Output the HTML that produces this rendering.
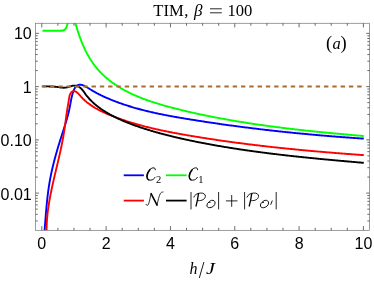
<!DOCTYPE html>
<html><head><meta charset="utf-8"><title>TIM, beta = 100</title><style>
html,body{margin:0;padding:0;background:#fff;}body{width:374px;height:282px;overflow:hidden;position:relative;}
.t{position:absolute;white-space:nowrap;line-height:1;color:#000;height:1em;will-change:opacity;}
.sans{font-family:"Liberation Sans",sans-serif;}.ser{font-family:"Liberation Serif",serif;}
</style></head><body>
<svg width="374" height="282" viewBox="0 0 374 282" style="position:absolute;left:0;top:0">
<defs><clipPath id="cp"><rect x="35.55" y="23.25" width="334.00" height="207.05"/></clipPath></defs>
<rect x="0" y="0" width="374" height="282" fill="#fff"/>
<g clip-path="url(#cp)" fill="none" stroke-linecap="butt" stroke-linejoin="round">
<path d="M43.96,237.99 L44.04,237.09 L44.12,236.20 L44.19,235.30 L44.27,234.40 L44.34,233.50 L44.41,232.61 L44.49,231.71 L44.56,230.81 L44.63,229.91 L44.70,229.01 L44.77,228.10 L44.84,227.20 L44.91,226.30 L44.98,225.40 L45.05,224.50 L45.12,223.60 L45.19,222.69 L45.26,221.79 L45.33,220.89 L45.40,219.98 L45.47,219.08 L45.54,218.18 L45.61,217.27 L45.68,216.37 L45.75,215.47 L45.83,214.56 L45.90,213.66 L45.98,212.76 L46.05,211.85 L46.13,210.95 L46.21,210.05 L46.29,209.14 L46.37,208.24 L46.45,207.34 L46.53,206.43 L46.62,205.53 L46.70,204.63 L46.79,203.73 L46.88,202.82 L46.97,201.92 L47.06,201.02 L47.16,200.12 L47.26,199.22 L47.36,198.32 L47.46,197.42 L47.56,196.52 L47.67,195.62 L47.77,194.72 L47.89,193.82 L48.00,192.92 L48.11,192.03 L48.23,191.13 L48.35,190.23 L48.48,189.34 L48.61,188.44 L48.74,187.55 L48.87,186.65 L49.01,185.76 L49.14,184.87 L49.29,183.97 L49.43,183.08 L49.58,182.19 L49.74,181.30 L49.89,180.41 L50.05,179.52 L50.22,178.64 L50.38,177.75 L50.56,176.86 L50.73,175.98 L50.91,175.09 L51.09,174.21 L51.27,173.33 L51.46,172.44 L51.65,171.56 L51.85,170.68 L52.05,169.80 L52.25,168.92 L52.45,168.04 L52.66,167.16 L52.87,166.28 L53.08,165.41 L53.29,164.53 L53.51,163.65 L53.73,162.78 L53.96,161.90 L54.18,161.03 L54.41,160.15 L54.64,159.28 L54.87,158.41 L55.11,157.53 L55.35,156.66 L55.59,155.79 L55.83,154.92 L56.07,154.05 L56.32,153.17 L56.57,152.30 L56.82,151.43 L57.07,150.56 L57.33,149.69 L57.58,148.83 L57.84,147.96 L58.10,147.09 L58.36,146.22 L58.62,145.35 L58.89,144.48 L59.16,143.62 L59.42,142.75 L59.69,141.88 L59.96,141.01 L60.23,140.15 L60.51,139.28 L60.78,138.41 L61.05,137.55 L61.33,136.68 L61.61,135.81 L61.88,134.95 L62.16,134.08 L62.44,133.22 L62.72,132.35 L63.00,131.48 L63.28,130.62 L63.56,129.75 L63.84,128.88 L64.12,128.02 L64.39,127.15 L64.67,126.29 L64.94,125.42 L65.21,124.55 L65.48,123.69 L65.74,122.82 L66.01,121.95 L66.27,121.08 L66.52,120.22 L66.77,119.35 L67.02,118.48 L67.27,117.61 L67.51,116.74 L67.74,115.88 L67.97,115.01 L68.19,114.14 L68.41,113.27 L68.63,112.40 L68.83,111.53 L69.03,110.66 L69.23,109.79 L69.41,108.91 L69.59,108.04 L69.76,107.17 L69.93,106.30 L70.09,105.42 L70.25,104.55 L70.41,103.67 L70.57,102.79 L70.73,101.91 L70.89,101.02 L71.06,100.14 L71.24,99.25 L71.43,98.36 L71.63,97.46 L71.84,96.56 L72.06,95.66 L72.30,94.75 L72.56,93.84 L72.83,92.92 L73.13,92.00 L73.45,91.08 L73.80,90.18 L74.18,89.31 L74.60,88.48 L75.07,87.70 L75.58,86.99 L76.14,86.35 L76.76,85.80 L77.44,85.35 L78.18,85.01 L78.96,84.79 L79.77,84.69 L80.59,84.71 L81.42,84.83 L82.26,85.04 L83.10,85.34 L83.95,85.70 L84.80,86.11 L85.64,86.57 L86.48,87.06 L87.31,87.56 L88.12,88.06 L88.92,88.55 L89.71,89.03 L90.49,89.51 L91.26,89.97 L92.03,90.43 L92.79,90.88 L93.56,91.33 L94.33,91.77 L95.11,92.20 L95.89,92.63 L96.67,93.05 L97.46,93.47 L98.26,93.89 L99.06,94.30 L99.86,94.70 L100.67,95.10 L101.48,95.49 L102.30,95.88 L103.11,96.27 L103.94,96.65 L104.76,97.03 L105.59,97.40 L106.42,97.77 L107.25,98.13 L108.09,98.49 L108.92,98.84 L109.76,99.20 L110.60,99.54 L111.44,99.89 L112.29,100.22 L113.13,100.56 L113.98,100.89 L114.82,101.22 L115.67,101.54 L116.52,101.86 L117.37,102.18 L118.22,102.49 L119.07,102.80 L119.92,103.11 L120.77,103.41 L121.63,103.71 L122.48,104.00 L123.34,104.30 L124.20,104.59 L125.06,104.87 L125.92,105.15 L126.77,105.43 L127.64,105.71 L128.50,105.98 L129.36,106.25 L130.22,106.52 L131.09,106.78 L131.95,107.04 L132.82,107.30 L133.69,107.55 L134.55,107.80 L135.42,108.05 L136.29,108.30 L137.16,108.54 L138.03,108.78 L138.90,109.02 L139.78,109.26 L140.65,109.49 L141.52,109.72 L142.40,109.95 L143.27,110.17 L144.15,110.39 L145.02,110.61 L145.90,110.83 L146.78,111.04 L147.65,111.26 L148.53,111.47 L149.41,111.68 L150.29,111.88 L151.17,112.08 L152.05,112.29 L152.94,112.49 L153.82,112.68 L154.70,112.88 L155.58,113.07 L156.47,113.26 L157.35,113.45 L158.24,113.64 L159.12,113.83 L160.01,114.01 L160.89,114.19 L161.78,114.37 L162.67,114.55 L163.55,114.73 L164.44,114.90 L165.33,115.08 L166.22,115.25 L167.11,115.42 L168.00,115.59 L168.89,115.76 L169.78,115.92 L170.67,116.09 L171.56,116.25 L172.45,116.42 L173.34,116.58 L174.23,116.74 L175.12,116.90 L176.01,117.05 L176.91,117.21 L177.80,117.37 L178.69,117.52 L179.58,117.67 L180.48,117.83 L181.37,117.98 L182.26,118.13 L183.15,118.28 L184.05,118.43 L184.94,118.58 L185.84,118.72 L186.73,118.87 L187.62,119.02 L188.52,119.16 L189.41,119.31 L190.31,119.45 L191.20,119.60 L192.09,119.74 L192.99,119.88 L193.88,120.03 L194.78,120.17 L195.67,120.31 L196.57,120.45 L197.46,120.59 L198.36,120.73 L199.25,120.87 L200.14,121.01 L201.04,121.15 L201.93,121.29 L202.83,121.42 L203.72,121.56 L204.62,121.70 L205.51,121.83 L206.41,121.97 L207.30,122.10 L208.20,122.24 L209.09,122.37 L209.99,122.51 L210.88,122.64 L211.78,122.77 L212.67,122.90 L213.57,123.03 L214.47,123.17 L215.36,123.30 L216.26,123.43 L217.15,123.56 L218.05,123.69 L218.94,123.81 L219.84,123.94 L220.74,124.07 L221.63,124.20 L222.53,124.32 L223.42,124.45 L224.32,124.57 L225.22,124.70 L226.11,124.82 L227.01,124.95 L227.90,125.07 L228.80,125.20 L229.70,125.32 L230.59,125.44 L231.49,125.56 L232.39,125.68 L233.28,125.80 L234.18,125.93 L235.07,126.05 L235.97,126.16 L236.87,126.28 L237.77,126.40 L238.66,126.52 L239.56,126.64 L240.46,126.75 L241.35,126.87 L242.25,126.99 L243.15,127.10 L244.04,127.22 L244.94,127.33 L245.84,127.45 L246.74,127.56 L247.63,127.67 L248.53,127.79 L249.43,127.90 L250.32,128.01 L251.22,128.12 L252.12,128.23 L253.02,128.34 L253.92,128.45 L254.81,128.56 L255.71,128.67 L256.61,128.78 L257.51,128.89 L258.40,129.00 L259.30,129.10 L260.20,129.21 L261.10,129.32 L262.00,129.42 L262.89,129.53 L263.79,129.63 L264.69,129.74 L265.59,129.84 L266.49,129.95 L267.39,130.05 L268.28,130.15 L269.18,130.25 L270.08,130.36 L270.98,130.46 L271.88,130.56 L272.78,130.66 L273.68,130.76 L274.58,130.86 L275.47,130.96 L276.37,131.06 L277.27,131.15 L278.17,131.25 L279.07,131.35 L279.97,131.45 L280.87,131.54 L281.77,131.64 L282.67,131.73 L283.57,131.83 L284.47,131.92 L285.37,132.02 L286.26,132.11 L287.16,132.21 L288.06,132.30 L288.96,132.39 L289.86,132.48 L290.76,132.57 L291.66,132.67 L292.56,132.76 L293.46,132.85 L294.36,132.94 L295.26,133.03 L296.16,133.12 L297.06,133.20 L297.96,133.29 L298.86,133.38 L299.76,133.47 L300.66,133.55 L301.56,133.64 L302.46,133.73 L303.36,133.81 L304.27,133.90 L305.17,133.98 L306.07,134.07 L306.97,134.15 L307.87,134.24 L308.77,134.32 L309.67,134.40 L310.57,134.48 L311.47,134.57 L312.37,134.65 L313.27,134.73 L314.17,134.81 L315.08,134.89 L315.98,134.97 L316.88,135.05 L317.78,135.13 L318.68,135.21 L319.58,135.28 L320.48,135.36 L321.38,135.44 L322.29,135.52 L323.19,135.59 L324.09,135.67 L324.99,135.74 L325.89,135.82 L326.79,135.89 L327.70,135.97 L328.60,136.04 L329.50,136.12 L330.40,136.19 L331.30,136.26 L332.21,136.34 L333.11,136.41 L334.01,136.48 L334.91,136.55 L335.82,136.62 L336.72,136.69 L337.62,136.76 L338.52,136.83 L339.43,136.90 L340.33,136.97 L341.23,137.04 L342.13,137.11 L343.04,137.18 L343.94,137.24 L344.84,137.31 L345.74,137.38 L346.65,137.44 L347.55,137.51 L348.45,137.57 L349.36,137.64 L350.26,137.70 L351.16,137.77 L352.07,137.83 L352.97,137.90 L353.87,137.96 L354.78,138.02 L355.68,138.08 L356.58,138.15 L357.49,138.21 L358.39,138.27 L359.30,138.33 L360.20,138.39 L361.10,138.45 L362.01,138.51 L362.91,138.57 L363.81,138.63" stroke="#0000ff" stroke-width="1.9"/>
<path d="M42.5,30.8 H61.2 C64.6,30.8 65.6,29.6 66.5,27.2 L69,19" stroke="#00ff00" stroke-width="1.9"/>
<path d="M73.97,18.02 L74.18,18.81 L74.39,19.60 L74.61,20.39 L74.83,21.18 L75.05,21.97 L75.28,22.77 L75.50,23.56 L75.73,24.36 L75.96,25.16 L76.20,25.96 L76.44,26.76 L76.68,27.57 L76.93,28.37 L77.18,29.17 L77.43,29.98 L77.68,30.78 L77.94,31.58 L78.21,32.39 L78.47,33.19 L78.74,34.00 L79.02,34.80 L79.30,35.60 L79.58,36.40 L79.87,37.20 L80.16,38.00 L80.45,38.80 L80.75,39.60 L81.06,40.40 L81.37,41.19 L81.68,41.99 L82.00,42.78 L82.33,43.57 L82.66,44.35 L82.99,45.14 L83.33,45.92 L83.68,46.70 L84.03,47.48 L84.38,48.25 L84.74,49.02 L85.11,49.79 L85.48,50.55 L85.86,51.32 L86.25,52.07 L86.64,52.83 L87.03,53.58 L87.43,54.32 L87.84,55.07 L88.26,55.80 L88.68,56.54 L89.11,57.27 L89.54,57.99 L89.98,58.71 L90.43,59.43 L90.88,60.14 L91.34,60.84 L91.81,61.54 L92.28,62.24 L92.76,62.93 L93.25,63.61 L93.74,64.29 L94.24,64.97 L94.74,65.64 L95.26,66.30 L95.78,66.96 L96.30,67.61 L96.83,68.25 L97.37,68.89 L97.92,69.52 L98.47,70.15 L99.03,70.77 L99.59,71.38 L100.16,71.99 L100.74,72.59 L101.32,73.19 L101.91,73.78 L102.51,74.36 L103.11,74.94 L103.72,75.51 L104.33,76.08 L104.95,76.63 L105.58,77.19 L106.21,77.74 L106.84,78.28 L107.49,78.81 L108.13,79.34 L108.78,79.87 L109.44,80.39 L110.10,80.90 L110.77,81.41 L111.44,81.91 L112.11,82.41 L112.79,82.90 L113.48,83.39 L114.17,83.87 L114.86,84.34 L115.56,84.81 L116.26,85.28 L116.96,85.74 L117.67,86.19 L118.38,86.64 L119.10,87.09 L119.82,87.52 L120.54,87.96 L121.27,88.39 L122.00,88.81 L122.73,89.23 L123.47,89.64 L124.21,90.05 L124.95,90.46 L125.70,90.86 L126.45,91.25 L127.20,91.64 L127.95,92.03 L128.71,92.41 L129.46,92.79 L130.22,93.16 L130.99,93.52 L131.75,93.89 L132.52,94.24 L133.29,94.60 L134.06,94.95 L134.83,95.29 L135.60,95.63 L136.38,95.97 L137.15,96.30 L137.93,96.63 L138.71,96.96 L139.49,97.28 L140.28,97.59 L141.06,97.90 L141.85,98.21 L142.63,98.52 L143.42,98.82 L144.21,99.12 L145.00,99.41 L145.79,99.70 L146.59,99.99 L147.38,100.27 L148.18,100.55 L148.97,100.83 L149.77,101.11 L150.57,101.38 L151.37,101.65 L152.17,101.91 L152.97,102.17 L153.77,102.43 L154.57,102.69 L155.38,102.95 L156.18,103.20 L156.99,103.45 L157.80,103.69 L158.60,103.94 L159.41,104.18 L160.22,104.42 L161.03,104.66 L161.84,104.89 L162.65,105.13 L163.46,105.36 L164.27,105.59 L165.09,105.81 L165.90,106.04 L166.71,106.26 L167.53,106.49 L168.34,106.71 L169.15,106.93 L169.97,107.14 L170.78,107.36 L171.60,107.57 L172.41,107.79 L173.23,108.00 L174.05,108.21 L174.86,108.42 L175.68,108.63 L176.50,108.84 L177.31,109.04 L178.13,109.25 L178.95,109.45 L179.76,109.65 L180.58,109.86 L181.40,110.06 L182.22,110.26 L183.04,110.45 L183.86,110.65 L184.67,110.85 L185.49,111.04 L186.31,111.23 L187.13,111.43 L187.95,111.62 L188.77,111.81 L189.59,112.00 L190.41,112.18 L191.23,112.37 L192.05,112.56 L192.88,112.74 L193.70,112.93 L194.52,113.11 L195.34,113.29 L196.16,113.47 L196.98,113.65 L197.81,113.83 L198.63,114.01 L199.45,114.18 L200.27,114.36 L201.10,114.53 L201.92,114.71 L202.74,114.88 L203.57,115.05 L204.39,115.22 L205.21,115.39 L206.04,115.56 L206.86,115.73 L207.69,115.89 L208.51,116.06 L209.34,116.22 L210.16,116.39 L210.99,116.55 L211.81,116.71 L212.64,116.88 L213.46,117.04 L214.29,117.20 L215.12,117.36 L215.94,117.51 L216.77,117.67 L217.59,117.83 L218.42,117.98 L219.25,118.14 L220.08,118.29 L220.90,118.44 L221.73,118.60 L222.56,118.75 L223.39,118.90 L224.21,119.05 L225.04,119.20 L225.87,119.35 L226.70,119.50 L227.53,119.64 L228.36,119.79 L229.18,119.93 L230.01,120.08 L230.84,120.22 L231.67,120.37 L232.50,120.51 L233.33,120.65 L234.16,120.79 L234.99,120.93 L235.82,121.07 L236.65,121.21 L237.48,121.35 L238.31,121.49 L239.14,121.62 L239.97,121.76 L240.81,121.89 L241.64,122.03 L242.47,122.16 L243.30,122.30 L244.13,122.43 L244.96,122.56 L245.79,122.69 L246.63,122.82 L247.46,122.95 L248.29,123.08 L249.12,123.21 L249.96,123.34 L250.79,123.46 L251.62,123.59 L252.45,123.72 L253.29,123.84 L254.12,123.97 L254.95,124.09 L255.79,124.21 L256.62,124.34 L257.45,124.46 L258.29,124.58 L259.12,124.70 L259.95,124.82 L260.79,124.94 L261.62,125.06 L262.46,125.18 L263.29,125.29 L264.12,125.41 L264.96,125.53 L265.79,125.64 L266.63,125.76 L267.46,125.87 L268.30,125.99 L269.13,126.10 L269.97,126.21 L270.80,126.33 L271.64,126.44 L272.47,126.55 L273.31,126.66 L274.14,126.77 L274.98,126.88 L275.82,126.99 L276.65,127.10 L277.49,127.20 L278.32,127.31 L279.16,127.42 L279.99,127.52 L280.83,127.63 L281.67,127.74 L282.50,127.84 L283.34,127.94 L284.18,128.05 L285.01,128.15 L285.85,128.25 L286.69,128.35 L287.52,128.46 L288.36,128.56 L289.20,128.66 L290.03,128.76 L290.87,128.86 L291.71,128.96 L292.54,129.05 L293.38,129.15 L294.22,129.25 L295.06,129.35 L295.89,129.44 L296.73,129.54 L297.57,129.63 L298.41,129.73 L299.24,129.82 L300.08,129.92 L300.92,130.01 L301.76,130.11 L302.59,130.20 L303.43,130.29 L304.27,130.38 L305.11,130.47 L305.95,130.57 L306.78,130.66 L307.62,130.75 L308.46,130.84 L309.30,130.93 L310.14,131.01 L310.97,131.10 L311.81,131.19 L312.65,131.28 L313.49,131.37 L314.33,131.45 L315.16,131.54 L316.00,131.63 L316.84,131.71 L317.68,131.80 L318.52,131.88 L319.36,131.97 L320.19,132.05 L321.03,132.14 L321.87,132.22 L322.71,132.30 L323.55,132.38 L324.39,132.47 L325.22,132.55 L326.06,132.63 L326.90,132.71 L327.74,132.79 L328.58,132.87 L329.42,132.95 L330.25,133.03 L331.09,133.11 L331.93,133.19 L332.77,133.27 L333.61,133.35 L334.45,133.43 L335.29,133.51 L336.12,133.59 L336.96,133.66 L337.80,133.74 L338.64,133.82 L339.48,133.89 L340.32,133.97 L341.15,134.05 L341.99,134.12 L342.83,134.20 L343.67,134.27 L344.51,134.35 L345.35,134.42 L346.18,134.50 L347.02,134.57 L347.86,134.64 L348.70,134.72 L349.54,134.79 L350.38,134.86 L351.21,134.94 L352.05,135.01 L352.89,135.08 L353.73,135.15 L354.57,135.23 L355.40,135.30 L356.24,135.37 L357.08,135.44 L357.92,135.51 L358.75,135.58 L359.59,135.65 L360.43,135.72 L361.27,135.79 L362.10,135.86 L362.94,135.93 L363.78,136.00" stroke="#00ff00" stroke-width="1.9"/>
<path d="M46.76,238.02 L46.71,237.11 L46.67,236.19 L46.64,235.28 L46.61,234.36 L46.59,233.45 L46.57,232.54 L46.57,231.62 L46.56,230.71 L46.57,229.80 L46.58,228.89 L46.59,227.98 L46.61,227.08 L46.64,226.17 L46.67,225.26 L46.71,224.36 L46.75,223.45 L46.80,222.55 L46.86,221.64 L46.91,220.74 L46.98,219.84 L47.05,218.94 L47.12,218.04 L47.20,217.13 L47.28,216.23 L47.37,215.34 L47.47,214.44 L47.56,213.54 L47.66,212.64 L47.77,211.74 L47.88,210.85 L48.00,209.95 L48.11,209.06 L48.24,208.16 L48.36,207.27 L48.49,206.37 L48.63,205.48 L48.76,204.59 L48.90,203.69 L49.05,202.80 L49.20,201.91 L49.35,201.02 L49.50,200.13 L49.66,199.23 L49.82,198.34 L49.98,197.45 L50.15,196.56 L50.32,195.68 L50.49,194.79 L50.66,193.90 L50.84,193.01 L51.02,192.12 L51.20,191.23 L51.38,190.35 L51.57,189.46 L51.76,188.57 L51.95,187.68 L52.14,186.80 L52.33,185.91 L52.53,185.03 L52.72,184.14 L52.92,183.25 L53.12,182.37 L53.32,181.48 L53.52,180.60 L53.73,179.71 L53.93,178.83 L54.14,177.94 L54.34,177.06 L54.55,176.17 L54.76,175.29 L54.97,174.40 L55.18,173.52 L55.39,172.63 L55.60,171.75 L55.81,170.86 L56.02,169.98 L56.23,169.09 L56.44,168.21 L56.65,167.32 L56.86,166.44 L57.07,165.55 L57.28,164.67 L57.49,163.78 L57.70,162.89 L57.91,162.01 L58.12,161.12 L58.33,160.24 L58.53,159.35 L58.74,158.47 L58.94,157.58 L59.15,156.69 L59.35,155.81 L59.55,154.92 L59.75,154.03 L59.95,153.15 L60.15,152.26 L60.34,151.37 L60.54,150.48 L60.73,149.59 L60.92,148.70 L61.11,147.82 L61.30,146.93 L61.48,146.04 L61.66,145.15 L61.84,144.26 L62.02,143.37 L62.19,142.47 L62.37,141.58 L62.54,140.69 L62.70,139.80 L62.87,138.91 L63.03,138.01 L63.19,137.12 L63.34,136.22 L63.50,135.33 L63.64,134.44 L63.79,133.54 L63.93,132.64 L64.07,131.75 L64.21,130.85 L64.35,129.95 L64.48,129.06 L64.61,128.16 L64.74,127.26 L64.87,126.37 L65.00,125.47 L65.12,124.57 L65.25,123.67 L65.37,122.78 L65.49,121.88 L65.62,120.98 L65.74,120.09 L65.86,119.19 L65.99,118.30 L66.11,117.40 L66.24,116.51 L66.36,115.61 L66.49,114.72 L66.62,113.83 L66.75,112.93 L66.88,112.04 L67.01,111.15 L67.15,110.26 L67.29,109.37 L67.43,108.49 L67.57,107.60 L67.72,106.71 L67.86,105.83 L68.01,104.94 L68.16,104.04 L68.31,103.14 L68.46,102.24 L68.61,101.33 L68.76,100.41 L68.91,99.47 L69.05,98.53 L69.21,97.58 L69.38,96.64 L69.59,95.72 L69.86,94.83 L70.20,93.99 L70.62,93.21 L71.16,92.51 L71.81,91.89 L72.55,91.42 L73.36,91.15 L74.21,91.12 L75.07,91.32 L75.91,91.68 L76.69,92.16 L77.40,92.72 L78.07,93.36 L78.70,94.03 L79.32,94.74 L79.92,95.45 L80.54,96.15 L81.16,96.84 L81.79,97.51 L82.43,98.17 L83.09,98.82 L83.75,99.45 L84.42,100.07 L85.09,100.68 L85.78,101.28 L86.48,101.86 L87.18,102.44 L87.89,103.00 L88.61,103.55 L89.33,104.09 L90.06,104.62 L90.80,105.14 L91.55,105.65 L92.30,106.14 L93.06,106.63 L93.83,107.11 L94.60,107.58 L95.37,108.05 L96.16,108.50 L96.94,108.94 L97.73,109.38 L98.53,109.81 L99.33,110.23 L100.14,110.64 L100.95,111.05 L101.76,111.45 L102.58,111.85 L103.40,112.23 L104.22,112.61 L105.05,112.99 L105.88,113.36 L106.71,113.72 L107.55,114.08 L108.39,114.44 L109.23,114.79 L110.07,115.13 L110.91,115.47 L111.75,115.81 L112.60,116.15 L113.45,116.48 L114.29,116.80 L115.14,117.13 L115.99,117.45 L116.84,117.77 L117.69,118.08 L118.55,118.39 L119.40,118.70 L120.25,119.00 L121.11,119.31 L121.97,119.60 L122.82,119.90 L123.68,120.19 L124.54,120.48 L125.40,120.77 L126.26,121.05 L127.12,121.33 L127.99,121.61 L128.85,121.88 L129.71,122.15 L130.58,122.42 L131.44,122.69 L132.31,122.95 L133.18,123.21 L134.05,123.47 L134.92,123.73 L135.79,123.98 L136.66,124.23 L137.53,124.48 L138.40,124.72 L139.27,124.96 L140.15,125.20 L141.02,125.44 L141.90,125.68 L142.77,125.91 L143.65,126.14 L144.53,126.37 L145.40,126.59 L146.28,126.82 L147.16,127.04 L148.04,127.26 L148.92,127.48 L149.80,127.69 L150.68,127.90 L151.57,128.11 L152.45,128.32 L153.33,128.53 L154.21,128.74 L155.10,128.94 L155.98,129.14 L156.87,129.34 L157.75,129.54 L158.64,129.73 L159.53,129.93 L160.41,130.12 L161.30,130.31 L162.19,130.50 L163.08,130.68 L163.97,130.87 L164.85,131.05 L165.74,131.24 L166.63,131.42 L167.52,131.60 L168.41,131.77 L169.31,131.95 L170.20,132.13 L171.09,132.30 L171.98,132.47 L172.87,132.64 L173.76,132.81 L174.66,132.98 L175.55,133.15 L176.44,133.31 L177.34,133.48 L178.23,133.64 L179.12,133.80 L180.02,133.97 L180.91,134.13 L181.81,134.29 L182.70,134.45 L183.60,134.60 L184.49,134.76 L185.39,134.92 L186.28,135.07 L187.18,135.23 L188.07,135.38 L188.97,135.53 L189.86,135.68 L190.76,135.83 L191.65,135.99 L192.55,136.14 L193.45,136.28 L194.34,136.43 L195.24,136.58 L196.13,136.73 L197.03,136.88 L197.93,137.02 L198.82,137.17 L199.72,137.31 L200.62,137.46 L201.51,137.60 L202.41,137.74 L203.30,137.88 L204.20,138.03 L205.10,138.17 L205.99,138.31 L206.89,138.45 L207.79,138.58 L208.69,138.72 L209.58,138.86 L210.48,139.00 L211.38,139.13 L212.27,139.27 L213.17,139.40 L214.07,139.54 L214.97,139.67 L215.86,139.81 L216.76,139.94 L217.66,140.07 L218.56,140.20 L219.45,140.33 L220.35,140.46 L221.25,140.59 L222.15,140.72 L223.05,140.85 L223.94,140.98 L224.84,141.11 L225.74,141.23 L226.64,141.36 L227.54,141.48 L228.43,141.61 L229.33,141.73 L230.23,141.86 L231.13,141.98 L232.03,142.10 L232.93,142.22 L233.83,142.35 L234.73,142.47 L235.62,142.59 L236.52,142.71 L237.42,142.83 L238.32,142.95 L239.22,143.06 L240.12,143.18 L241.02,143.30 L241.92,143.41 L242.82,143.53 L243.72,143.65 L244.62,143.76 L245.52,143.88 L246.42,143.99 L247.31,144.10 L248.21,144.22 L249.11,144.33 L250.01,144.44 L250.91,144.55 L251.81,144.66 L252.71,144.77 L253.61,144.88 L254.51,144.99 L255.41,145.10 L256.31,145.21 L257.21,145.31 L258.12,145.42 L259.02,145.53 L259.92,145.63 L260.82,145.74 L261.72,145.85 L262.62,145.95 L263.52,146.05 L264.42,146.16 L265.32,146.26 L266.22,146.36 L267.12,146.47 L268.02,146.57 L268.92,146.67 L269.83,146.77 L270.73,146.87 L271.63,146.97 L272.53,147.07 L273.43,147.17 L274.33,147.27 L275.23,147.36 L276.13,147.46 L277.04,147.56 L277.94,147.66 L278.84,147.75 L279.74,147.85 L280.64,147.94 L281.54,148.04 L282.45,148.13 L283.35,148.23 L284.25,148.32 L285.15,148.41 L286.05,148.51 L286.96,148.60 L287.86,148.69 L288.76,148.78 L289.66,148.87 L290.57,148.96 L291.47,149.05 L292.37,149.14 L293.27,149.23 L294.18,149.32 L295.08,149.41 L295.98,149.50 L296.88,149.59 L297.79,149.67 L298.69,149.76 L299.59,149.85 L300.49,149.93 L301.40,150.02 L302.30,150.10 L303.20,150.19 L304.11,150.27 L305.01,150.36 L305.91,150.44 L306.82,150.53 L307.72,150.61 L308.62,150.69 L309.53,150.77 L310.43,150.86 L311.33,150.94 L312.24,151.02 L313.14,151.10 L314.04,151.18 L314.95,151.26 L315.85,151.34 L316.76,151.42 L317.66,151.50 L318.56,151.58 L319.47,151.66 L320.37,151.74 L321.28,151.81 L322.18,151.89 L323.08,151.97 L323.99,152.04 L324.89,152.12 L325.80,152.20 L326.70,152.27 L327.61,152.35 L328.51,152.42 L329.41,152.50 L330.32,152.57 L331.22,152.65 L332.13,152.72 L333.03,152.80 L333.94,152.87 L334.84,152.94 L335.75,153.01 L336.65,153.09 L337.56,153.16 L338.46,153.23 L339.37,153.30 L340.27,153.37 L341.18,153.45 L342.08,153.52 L342.99,153.59 L343.89,153.66 L344.80,153.73 L345.70,153.80 L346.61,153.87 L347.51,153.93 L348.42,154.00 L349.33,154.07 L350.23,154.14 L351.14,154.21 L352.04,154.28 L352.95,154.34 L353.85,154.41 L354.76,154.48 L355.67,154.55 L356.57,154.61 L357.48,154.68 L358.38,154.74 L359.29,154.81 L360.20,154.88 L361.10,154.94 L362.01,155.01 L362.91,155.07 L363.82,155.14" stroke="#ff0000" stroke-width="1.9"/>
<path d="M42.40,86.41 L43.07,86.40 L43.75,86.40 L44.42,86.40 L45.10,86.39 L45.78,86.39 L46.46,86.40 L47.14,86.40 L47.82,86.41 L48.50,86.42 L49.18,86.43 L49.87,86.45 L50.55,86.47 L51.23,86.50 L51.92,86.53 L52.60,86.57 L53.28,86.61 L53.96,86.65 L54.64,86.70 L55.32,86.76 L56.00,86.83 L56.68,86.90 L57.35,86.98 L58.03,87.06 L58.70,87.15 L59.37,87.25 L60.04,87.35 L60.71,87.44 L61.38,87.52 L62.05,87.59 L62.72,87.64 L63.39,87.68 L64.06,87.68 L64.72,87.66 L65.39,87.61 L66.06,87.52 L66.73,87.40 L67.40,87.24 L68.07,87.06 L68.74,86.86 L69.41,86.66 L70.08,86.45 L70.75,86.25 L71.41,86.06 L72.07,85.90 L72.73,85.76 L73.39,85.66 L74.04,85.60 L74.68,85.59 L75.32,85.64 L75.96,85.74 L76.59,85.89 L77.20,86.09 L77.81,86.33 L78.41,86.61 L78.99,86.94 L79.55,87.29 L80.10,87.69 L80.63,88.11 L81.14,88.56 L81.63,89.03 L82.10,89.53 L82.55,90.05 L82.98,90.58 L83.39,91.13 L83.79,91.69 L84.19,92.26 L84.58,92.83 L84.96,93.40 L85.35,93.96 L85.75,94.53 L86.16,95.08 L86.57,95.63 L87.00,96.17 L87.43,96.70 L87.87,97.22 L88.32,97.73 L88.77,98.24 L89.23,98.75 L89.69,99.24 L90.16,99.74 L90.63,100.22 L91.11,100.71 L91.59,101.18 L92.08,101.65 L92.57,102.12 L93.06,102.58 L93.56,103.03 L94.07,103.48 L94.58,103.93 L95.09,104.37 L95.61,104.81 L96.13,105.24 L96.65,105.66 L97.18,106.08 L97.71,106.50 L98.25,106.91 L98.79,107.32 L99.33,107.72 L99.88,108.12 L100.43,108.51 L100.98,108.90 L101.54,109.29 L102.10,109.67 L102.67,110.05 L103.23,110.42 L103.80,110.79 L104.37,111.15 L104.95,111.51 L105.53,111.87 L106.11,112.22 L106.69,112.57 L107.27,112.92 L107.86,113.26 L108.45,113.60 L109.04,113.93 L109.64,114.27 L110.24,114.59 L110.83,114.92 L111.43,115.24 L112.04,115.56 L112.64,115.88 L113.25,116.19 L113.85,116.50 L114.46,116.80 L115.07,117.11 L115.68,117.41 L116.30,117.71 L116.91,118.00 L117.52,118.30 L118.14,118.59 L118.76,118.87 L119.38,119.16 L119.99,119.44 L120.61,119.72 L121.24,120.00 L121.86,120.27 L122.48,120.55 L123.10,120.82 L123.73,121.08 L124.35,121.35 L124.98,121.61 L125.61,121.88 L126.23,122.13 L126.86,122.39 L127.49,122.65 L128.12,122.90 L128.75,123.15 L129.39,123.40 L130.02,123.64 L130.65,123.89 L131.29,124.13 L131.92,124.37 L132.56,124.61 L133.19,124.85 L133.83,125.08 L134.47,125.31 L135.10,125.54 L135.74,125.77 L136.38,126.00 L137.02,126.23 L137.66,126.45 L138.30,126.67 L138.95,126.89 L139.59,127.11 L140.23,127.33 L140.88,127.54 L141.52,127.76 L142.16,127.97 L142.81,128.18 L143.46,128.39 L144.10,128.60 L144.75,128.80 L145.40,129.01 L146.04,129.21 L146.69,129.41 L147.34,129.61 L147.99,129.81 L148.64,130.01 L149.29,130.21 L149.94,130.41 L150.59,130.60 L151.24,130.79 L151.89,130.99 L152.54,131.18 L153.19,131.37 L153.84,131.56 L154.50,131.74 L155.15,131.93 L155.80,132.12 L156.46,132.30 L157.11,132.48 L157.76,132.67 L158.42,132.85 L159.07,133.03 L159.73,133.21 L160.38,133.39 L161.04,133.56 L161.69,133.74 L162.35,133.91 L163.01,134.09 L163.66,134.26 L164.32,134.43 L164.98,134.61 L165.63,134.78 L166.29,134.95 L166.95,135.11 L167.61,135.28 L168.27,135.45 L168.92,135.61 L169.58,135.78 L170.24,135.94 L170.90,136.11 L171.56,136.27 L172.22,136.43 L172.88,136.59 L173.54,136.75 L174.20,136.91 L174.86,137.07 L175.52,137.22 L176.18,137.38 L176.85,137.53 L177.51,137.69 L178.17,137.84 L178.83,137.99 L179.49,138.15 L180.16,138.30 L180.82,138.45 L181.48,138.60 L182.14,138.75 L182.81,138.89 L183.47,139.04 L184.13,139.19 L184.80,139.33 L185.46,139.48 L186.13,139.62 L186.79,139.77 L187.45,139.91 L188.12,140.05 L188.78,140.19 L189.45,140.33 L190.11,140.47 L190.78,140.61 L191.44,140.75 L192.11,140.89 L192.77,141.03 L193.44,141.16 L194.11,141.30 L194.77,141.43 L195.44,141.57 L196.10,141.70 L196.77,141.84 L197.44,141.97 L198.10,142.10 L198.77,142.23 L199.44,142.37 L200.10,142.50 L200.77,142.63 L201.44,142.76 L202.10,142.89 L202.77,143.01 L203.44,143.14 L204.10,143.27 L204.77,143.40 L205.44,143.52 L206.11,143.65 L206.77,143.77 L207.44,143.90 L208.11,144.02 L208.78,144.15 L209.45,144.27 L210.11,144.39 L210.78,144.51 L211.45,144.64 L212.12,144.76 L212.79,144.88 L213.45,145.00 L214.12,145.12 L214.79,145.24 L215.46,145.35 L216.13,145.47 L216.80,145.59 L217.47,145.71 L218.14,145.82 L218.81,145.94 L219.47,146.05 L220.14,146.17 L220.81,146.28 L221.48,146.40 L222.15,146.51 L222.82,146.62 L223.49,146.73 L224.16,146.85 L224.83,146.96 L225.50,147.07 L226.17,147.18 L226.84,147.29 L227.51,147.40 L228.18,147.51 L228.85,147.62 L229.52,147.73 L230.19,147.83 L230.86,147.94 L231.53,148.05 L232.20,148.15 L232.88,148.26 L233.55,148.36 L234.22,148.47 L234.89,148.57 L235.56,148.68 L236.23,148.78 L236.90,148.88 L237.57,148.99 L238.24,149.09 L238.91,149.19 L239.59,149.29 L240.26,149.39 L240.93,149.49 L241.60,149.59 L242.27,149.69 L242.94,149.79 L243.62,149.89 L244.29,149.99 L244.96,150.09 L245.63,150.19 L246.30,150.28 L246.98,150.38 L247.65,150.48 L248.32,150.57 L248.99,150.67 L249.67,150.76 L250.34,150.86 L251.01,150.95 L251.68,151.05 L252.36,151.14 L253.03,151.23 L253.70,151.32 L254.37,151.42 L255.05,151.51 L255.72,151.60 L256.39,151.69 L257.07,151.78 L257.74,151.87 L258.41,151.96 L259.08,152.05 L259.76,152.14 L260.43,152.23 L261.10,152.32 L261.78,152.41 L262.45,152.50 L263.12,152.58 L263.80,152.67 L264.47,152.76 L265.15,152.84 L265.82,152.93 L266.49,153.02 L267.17,153.10 L267.84,153.19 L268.51,153.27 L269.19,153.36 L269.86,153.44 L270.54,153.52 L271.21,153.61 L271.88,153.69 L272.56,153.77 L273.23,153.86 L273.91,153.94 L274.58,154.02 L275.26,154.10 L275.93,154.18 L276.60,154.26 L277.28,154.34 L277.95,154.42 L278.63,154.50 L279.30,154.58 L279.98,154.66 L280.65,154.74 L281.33,154.82 L282.00,154.90 L282.68,154.98 L283.35,155.05 L284.03,155.13 L284.70,155.21 L285.38,155.29 L286.05,155.36 L286.73,155.44 L287.40,155.52 L288.08,155.59 L288.75,155.67 L289.43,155.74 L290.10,155.82 L290.78,155.89 L291.45,155.97 L292.13,156.04 L292.80,156.11 L293.48,156.19 L294.15,156.26 L294.83,156.33 L295.50,156.41 L296.18,156.48 L296.85,156.55 L297.53,156.62 L298.20,156.70 L298.88,156.77 L299.56,156.84 L300.23,156.91 L300.91,156.98 L301.58,157.05 L302.26,157.12 L302.93,157.19 L303.61,157.26 L304.29,157.33 L304.96,157.40 L305.64,157.47 L306.31,157.54 L306.99,157.61 L307.66,157.68 L308.34,157.75 L309.02,157.82 L309.69,157.88 L310.37,157.95 L311.04,158.02 L311.72,158.09 L312.40,158.15 L313.07,158.22 L313.75,158.29 L314.42,158.36 L315.10,158.42 L315.78,158.49 L316.45,158.55 L317.13,158.62 L317.80,158.69 L318.48,158.75 L319.16,158.82 L319.83,158.88 L320.51,158.95 L321.19,159.01 L321.86,159.08 L322.54,159.14 L323.21,159.21 L323.89,159.27 L324.57,159.33 L325.24,159.40 L325.92,159.46 L326.60,159.53 L327.27,159.59 L327.95,159.65 L328.62,159.72 L329.30,159.78 L329.98,159.84 L330.65,159.90 L331.33,159.97 L332.01,160.03 L332.68,160.09 L333.36,160.15 L334.04,160.22 L334.71,160.28 L335.39,160.34 L336.06,160.40 L336.74,160.46 L337.42,160.52 L338.09,160.59 L338.77,160.65 L339.45,160.71 L340.12,160.77 L340.80,160.83 L341.48,160.89 L342.15,160.95 L342.83,161.01 L343.50,161.07 L344.18,161.13 L344.86,161.19 L345.53,161.25 L346.21,161.31 L346.89,161.37 L347.56,161.43 L348.24,161.49 L348.91,161.55 L349.59,161.61 L350.27,161.67 L350.94,161.73 L351.62,161.79 L352.30,161.85 L352.97,161.91 L353.65,161.97 L354.32,162.03 L355.00,162.09 L355.68,162.15 L356.35,162.21 L357.03,162.27 L357.71,162.33 L358.38,162.38 L359.06,162.44 L359.73,162.50 L360.41,162.56 L361.09,162.62 L361.76,162.68 L362.44,162.74 L363.12,162.80 L363.79,162.85" stroke="#000000" stroke-width="1.9"/>
<path d="M41.7,86.5 H361.6" stroke="#a86d36" stroke-width="2.0" stroke-dasharray="4.4,3.903"/>
</g>
<rect x="35.55" y="23.25" width="334.00" height="207.05" stroke="#6a6a6a" stroke-width="0.65" fill="none"/>
<g stroke="#505050" stroke-width="0.85" fill="none">
<path d="M41.80,230.30 v-4.20 M41.80,23.25 v4.20"/>
<path d="M57.88,230.30 v-2.50 M57.88,23.25 v2.50"/>
<path d="M73.96,230.30 v-2.50 M73.96,23.25 v2.50"/>
<path d="M90.04,230.30 v-2.50 M90.04,23.25 v2.50"/>
<path d="M106.12,230.30 v-4.20 M106.12,23.25 v4.20"/>
<path d="M122.20,230.30 v-2.50 M122.20,23.25 v2.50"/>
<path d="M138.28,230.30 v-2.50 M138.28,23.25 v2.50"/>
<path d="M154.36,230.30 v-2.50 M154.36,23.25 v2.50"/>
<path d="M170.44,230.30 v-4.20 M170.44,23.25 v4.20"/>
<path d="M186.52,230.30 v-2.50 M186.52,23.25 v2.50"/>
<path d="M202.60,230.30 v-2.50 M202.60,23.25 v2.50"/>
<path d="M218.68,230.30 v-2.50 M218.68,23.25 v2.50"/>
<path d="M234.76,230.30 v-4.20 M234.76,23.25 v4.20"/>
<path d="M250.84,230.30 v-2.50 M250.84,23.25 v2.50"/>
<path d="M266.92,230.30 v-2.50 M266.92,23.25 v2.50"/>
<path d="M283.00,230.30 v-2.50 M283.00,23.25 v2.50"/>
<path d="M299.08,230.30 v-4.20 M299.08,23.25 v4.20"/>
<path d="M315.16,230.30 v-2.50 M315.16,23.25 v2.50"/>
<path d="M331.24,230.30 v-2.50 M331.24,23.25 v2.50"/>
<path d="M347.32,230.30 v-2.50 M347.32,23.25 v2.50"/>
<path d="M363.40,230.30 v-4.20 M363.40,23.25 v4.20"/>
<path d="M35.55,220.94 h2.20 M369.55,220.94 h-2.20"/>
<path d="M35.55,214.29 h2.20 M369.55,214.29 h-2.20"/>
<path d="M35.55,209.13 h2.20 M369.55,209.13 h-2.20"/>
<path d="M35.55,204.91 h2.20 M369.55,204.91 h-2.20"/>
<path d="M35.55,201.35 h2.20 M369.55,201.35 h-2.20"/>
<path d="M35.55,198.26 h2.20 M369.55,198.26 h-2.20"/>
<path d="M35.55,195.54 h2.20 M369.55,195.54 h-2.20"/>
<path d="M35.55,193.10 h3.30 M369.55,193.10 h-3.30"/>
<path d="M35.55,177.07 h2.20 M369.55,177.07 h-2.20"/>
<path d="M35.55,167.69 h2.20 M369.55,167.69 h-2.20"/>
<path d="M35.55,161.04 h2.20 M369.55,161.04 h-2.20"/>
<path d="M35.55,155.88 h2.20 M369.55,155.88 h-2.20"/>
<path d="M35.55,151.66 h2.20 M369.55,151.66 h-2.20"/>
<path d="M35.55,148.10 h2.20 M369.55,148.10 h-2.20"/>
<path d="M35.55,145.01 h2.20 M369.55,145.01 h-2.20"/>
<path d="M35.55,142.29 h2.20 M369.55,142.29 h-2.20"/>
<path d="M35.55,139.85 h3.30 M369.55,139.85 h-3.30"/>
<path d="M35.55,123.82 h2.20 M369.55,123.82 h-2.20"/>
<path d="M35.55,114.44 h2.20 M369.55,114.44 h-2.20"/>
<path d="M35.55,107.79 h2.20 M369.55,107.79 h-2.20"/>
<path d="M35.55,102.63 h2.20 M369.55,102.63 h-2.20"/>
<path d="M35.55,98.41 h2.20 M369.55,98.41 h-2.20"/>
<path d="M35.55,94.85 h2.20 M369.55,94.85 h-2.20"/>
<path d="M35.55,91.76 h2.20 M369.55,91.76 h-2.20"/>
<path d="M35.55,89.04 h2.20 M369.55,89.04 h-2.20"/>
<path d="M35.55,86.60 h3.30 M369.55,86.60 h-3.30"/>
<path d="M35.55,70.57 h2.20 M369.55,70.57 h-2.20"/>
<path d="M35.55,61.19 h2.20 M369.55,61.19 h-2.20"/>
<path d="M35.55,54.54 h2.20 M369.55,54.54 h-2.20"/>
<path d="M35.55,49.38 h2.20 M369.55,49.38 h-2.20"/>
<path d="M35.55,45.16 h2.20 M369.55,45.16 h-2.20"/>
<path d="M35.55,41.60 h2.20 M369.55,41.60 h-2.20"/>
<path d="M35.55,38.51 h2.20 M369.55,38.51 h-2.20"/>
<path d="M35.55,35.79 h2.20 M369.55,35.79 h-2.20"/>
<path d="M35.55,33.35 h3.30 M369.55,33.35 h-3.30"/>
</g>
<g stroke-width="1.8" fill="none">
<path d="M123.7,175.3 H143.9" stroke="#0000ff"/>
<path d="M166,175.3 H186.6" stroke="#00ff00"/>
<path d="M123.7,200.6 H143.9" stroke="#ff0000"/>
<path d="M166,200.6 H186.6" stroke="#000"/>
</g>
<g fill="none" stroke="#000" stroke-linecap="round" stroke-linejoin="round">
<path d="M 155.34,169.82 C 155.69,168.45 154.49,167.68 152.95,167.85 C 150.13,168.28 147.13,172.04 146.96,176.15 C 146.88,179.06 148.50,180.25 150.55,180.17 C 152.69,180.08 154.40,178.88 155.00,177.43" stroke-width="0.95"/><path d="M 149.87,169.65 C 147.99,171.87 147.05,174.27 146.96,176.15 C 146.88,178.11 147.47,179.40 148.67,179.91" stroke-width="1.5"/>
<g transform="translate(42.3,0)"><path d="M 155.34,169.82 C 155.69,168.45 154.49,167.68 152.95,167.85 C 150.13,168.28 147.13,172.04 146.96,176.15 C 146.88,179.06 148.50,180.25 150.55,180.17 C 152.69,180.08 154.40,178.88 155.00,177.43" stroke-width="0.95"/><path d="M 149.87,169.65 C 147.99,171.87 147.05,174.27 146.96,176.15 C 146.88,178.11 147.47,179.40 148.67,179.91" stroke-width="1.5"/></g>
<path d="M 146.02,204.51 C 146.28,205.54 147.82,205.79 148.50,204.25 C 149.53,201.69 150.38,196.55 151.07,193.65" stroke-width="0.8"/><path d="M 151.07,193.65 L 157.06,205.11" stroke-width="1.55"/><path d="M 157.06,205.11 C 157.91,200.83 159.11,195.70 160.31,193.65 C 160.82,192.70 161.85,191.93 163.04,191.93" stroke-width="0.8"/>
<g transform="translate(0.0,0)">
<path d="M 198.51,193.70 C 197.98,197.76 197.12,202.04 196.05,206.00" stroke-width="1.3"/><path d="M 193.81,197.12 C 194.56,194.77 197.23,193.27 200.44,193.06 C 203.65,192.84 205.57,194.34 205.36,196.48 C 205.04,199.05 202.04,200.97 198.41,200.65" stroke-width="0.9"/>
<path d="M 210.17,202.26 C 208.67,201.61 207.18,203.11 206.96,205.04 C 206.75,206.96 208.03,207.93 209.96,207.71 C 212.74,207.39 215.09,205.25 215.09,202.90 C 215.09,200.97 213.59,200.12 211.67,200.33 C 210.17,200.55 209.10,201.40 208.89,202.26" stroke-width="0.95" transform="translate(0.0,0)"/>
</g>
<g transform="translate(53.2,0)">
<path d="M 198.51,193.70 C 197.98,197.76 197.12,202.04 196.05,206.00" stroke-width="1.3"/><path d="M 193.81,197.12 C 194.56,194.77 197.23,193.27 200.44,193.06 C 203.65,192.84 205.57,194.34 205.36,196.48 C 205.04,199.05 202.04,200.97 198.41,200.65" stroke-width="0.9"/>
<path d="M 210.17,202.26 C 208.67,201.61 207.18,203.11 206.96,205.04 C 206.75,206.96 208.03,207.93 209.96,207.71 C 212.74,207.39 215.09,205.25 215.09,202.90 C 215.09,200.97 213.59,200.12 211.67,200.33 C 210.17,200.55 209.10,201.40 208.89,202.26" stroke-width="0.95" transform="translate(0.3,0)"/>
</g>
<path d="M191.0,192.4 V209" stroke-width="0.85"/>
<path d="M218.6,192.4 V209" stroke-width="0.85"/>
<path d="M244.6,192.4 V209" stroke-width="0.85"/>
<path d="M276.2,192.4 V209" stroke-width="0.85"/>
<path d="M226.3,200.9 H237.1 M231.7,195.4 V206.4" stroke-width="0.85"/>
<path d="M272.2,200.9 L270.8,204.4" stroke-width="0.9"/>
<path d="M203.8,262.4 L199.4,277.6" stroke-width="0.9"/>
<path d="M210.4,8.8 H221.4 M210.4,12.8 H221.4" stroke-width="0.85"/>
</g>
</svg>
<div class="t sans" style="right:342.30px;top:26.00px;font-size:16.00px;">10</div>
<div class="t sans" style="right:342.30px;top:80.00px;font-size:16.00px;">1</div>
<div class="t sans" style="right:342.30px;top:133.00px;font-size:16.00px;">0.10</div>
<div class="t sans" style="right:342.30px;top:187.00px;font-size:16.00px;">0.01</div>
<div class="t sans" style="left:41.80px;transform:translateX(-50%);top:236.00px;font-size:16.00px;">0</div>
<div class="t sans" style="left:106.12px;transform:translateX(-50%);top:236.00px;font-size:16.00px;">2</div>
<div class="t sans" style="left:170.44px;transform:translateX(-50%);top:236.00px;font-size:16.00px;">4</div>
<div class="t sans" style="left:234.76px;transform:translateX(-50%);top:236.00px;font-size:16.00px;">6</div>
<div class="t sans" style="left:299.08px;transform:translateX(-50%);top:236.00px;font-size:16.00px;">8</div>
<div class="t sans" style="left:363.40px;transform:translateX(-50%);top:236.00px;font-size:16.00px;">10</div>
<div class="t ser" style="left:153.30px;top:3.00px;font-size:16.60px;">TIM</div>
<div class="t ser" style="left:184.30px;top:3.00px;font-size:16.60px;">,</div>
<div class="t ser" style="left:194.00px;top:2.00px;font-size:17.00px;"><i>β</i></div>
<div class="t ser" style="left:227.40px;top:3.00px;font-size:16.60px;">100</div>
<div class="t ser" style="left:326.00px;top:34.00px;font-size:18.50px;">(</div>
<div class="t ser" style="left:332.50px;top:36.00px;font-size:16.50px;"><i>a</i></div>
<div class="t ser" style="left:340.60px;top:34.00px;font-size:18.50px;">)</div>
<div class="t ser" style="left:189.50px;top:261.00px;font-size:16.00px;"><i>h</i></div>
<div class="t ser" style="left:206.00px;top:261.00px;font-size:16.00px;transform:scaleX(1.25);transform-origin:left;"><i>J</i></div>
<div class="t ser" style="left:155.90px;top:175.00px;font-size:10.50px;">2</div>
<div class="t ser" style="left:198.20px;top:175.00px;font-size:10.50px;">1</div>
</body></html>
